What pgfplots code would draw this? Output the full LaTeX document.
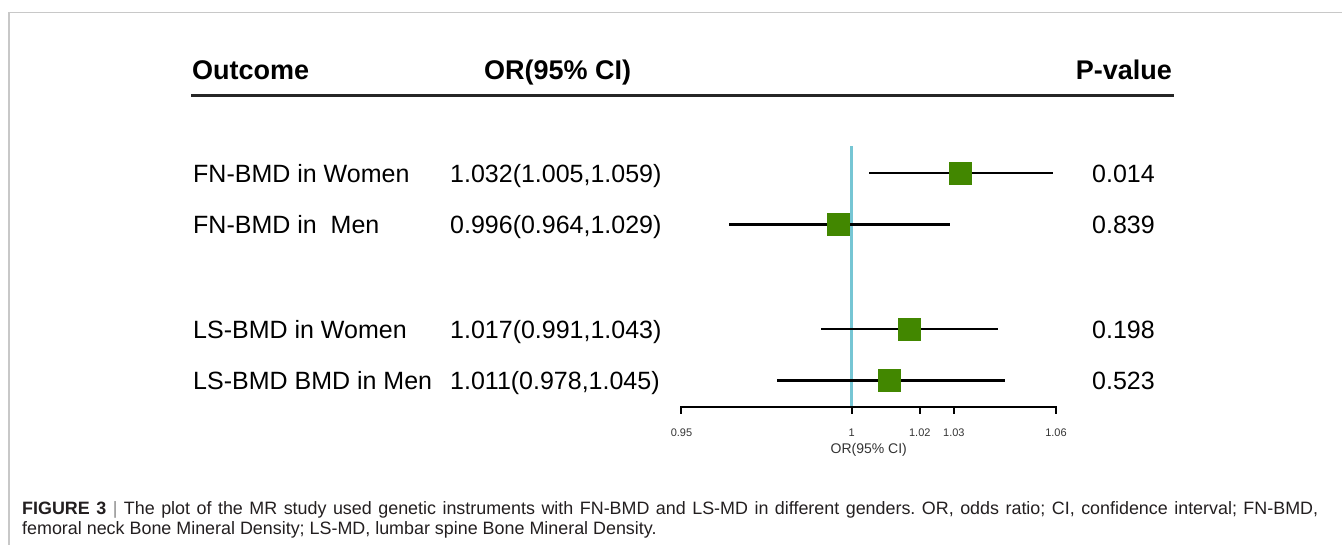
\documentclass[border=0pt]{standalone}
\usepackage{pgfplots}
\pgfplotsset{compat=1.18}
\usepackage{pgfplotstable}
\usepackage{fontspec}
\setmainfont{Liberation Sans}
\definecolor{sqgreen}{RGB}{66,135,0}
\definecolor{refblue}{RGB}{118,198,212}
\definecolor{framegray}{RGB}{200,200,200}
\definecolor{captxt}{RGB}{35,31,32}
\newcommand\fs[1]{\fontsize{#1}{#1}\selectfont}
\frenchspacing

% y = vertical position of the row (picture units), or = odds ratio, lo/hi = 95% CI
\pgfplotstableread{
y      or     lo     hi
-173   1.032  1.005  1.059
-224.5 0.996  0.964  1.029
-329   1.017  0.991  1.043
-380.5 1.011  0.978  1.045
}\ordata

\begin{document}
\begin{tikzpicture}[x=1pt,y=1pt]
\useasboundingbox (0,0) rectangle (1342,-544);
\draw[framegray, line width=1.5pt] (9,-545) -- (9,-12.5) -- (1343,-12.5);
\begin{axis}[at={(0,0)}, anchor=north west, scale only axis,
  width=1342pt, height=544pt,
  xmin=0.749868, xmax=1.143994, ymin=-544, ymax=0,
  hide axis, clip=false]
  % reference line at OR = 1
  \addplot[refblue, line width=3pt] coordinates {(1,-146) (1,-407)};
  % x axis
  \addplot[black, line width=2pt] coordinates {(0.95,-407) (1.06,-407)};
  \pgfplotsinvokeforeach{0.95,1,1.02,1.03,1.06}{
    \draw[black, line width=2pt] (axis cs:#1,-406) -- (axis cs:#1,-414);
    \node[font=\fs{11}, text=black!80, anchor=base] at (axis cs:#1,-436) {#1};
  }
  \node[font=\fs{14}, text=black!80, anchor=base] at (axis cs:1.005,-453) {OR(95\% CI)};
  % confidence intervals
  \addplot[draw=none, mark=none,
    error bars/.cd, x dir=both, x explicit, error mark=none,
    error bar style={draw=black, line width=2.3pt, solid}]
    table[x=or, y=y,
      x error minus expr=\thisrow{or}-\thisrow{lo},
      x error plus expr=\thisrow{hi}-\thisrow{or}] {\ordata};
  % point estimates
  \addplot[only marks, mark=square*, mark size=11pt,
    mark options={fill=sqgreen, draw=sqgreen, line width=0.5pt}]
    table[x=or, y=y] {\ordata};
\end{axis}
% header
\node[font=\fs{27}\bfseries, anchor=base west, inner sep=0] at (192,-79) {Outcome};
\node[font=\fs{27}\bfseries, anchor=base west, inner sep=0] at (484,-79) {OR(95\% CI)};
\node[font=\fs{27}\bfseries, anchor=base east, inner sep=0] at (1172,-79) {P-value};
\draw[black!85, line width=3pt] (191,-95) -- (1174,-95);
% rows
\begin{scope}[every node/.style={font=\fs{25}, anchor=base west, inner sep=0}]
\node at (193,-182) {FN-BMD in Women};
\node at (450,-182) {1.032(1.005,1.059)};
\node at (1092,-182) {0.014};
\node at (193,-233.5) {FN-BMD in\ \ Men};
\node at (450,-233.5) {0.996(0.964,1.029)};
\node at (1092,-233.5) {0.839};
\node at (193,-338) {LS-BMD in Women};
\node at (450,-338) {1.017(0.991,1.043)};
\node at (1092,-338) {0.198};
\node at (193,-389.5) {LS-BMD BMD in Men};
\node at (450,-389.5) {1.011(0.978,1.045)};
\node at (1092,-389.5) {0.523};
\end{scope}
% caption
\node[font=\fs{17.9}, text=captxt, anchor=base west, inner sep=0] at (22,-514)
  {\hbox to 1296pt{\textbf{FIGURE 3} \textcolor{black!45}{|} The plot of the MR study used genetic instruments with FN-BMD and LS-MD in different genders. OR, odds ratio; CI, confidence interval; FN-BMD,}};
\node[font=\fs{17.9}, text=captxt, anchor=base west, inner sep=0] at (22,-534)
  {femoral neck Bone Mineral Density; LS-MD, lumbar spine Bone Mineral Density.};
\end{tikzpicture}
\end{document}
